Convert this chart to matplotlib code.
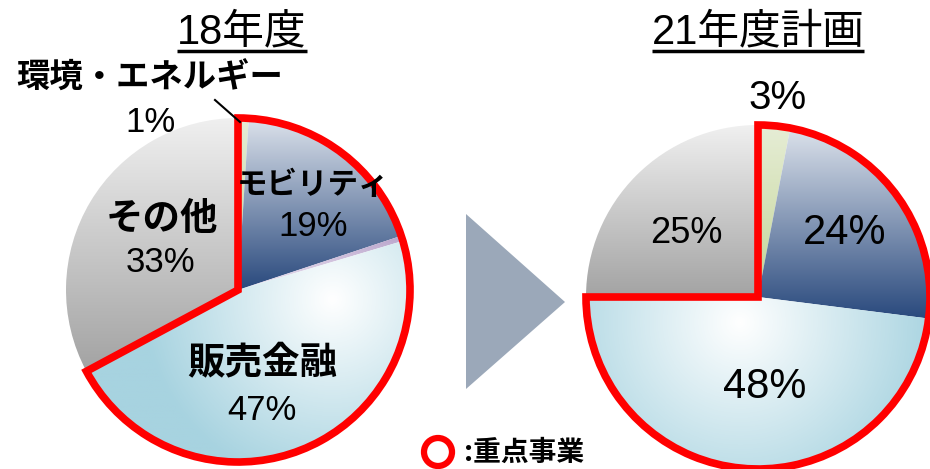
import numpy as np
import matplotlib.pyplot as plt
from matplotlib.patches import Wedge, Circle, Polygon
from matplotlib.colors import LinearSegmentedColormap

plt.rcParams['font.family'] = ['Liberation Sans', 'Noto Sans CJK JP']

# 18年度の事業構成
segments_18 = ['環境・エネルギー', 'モビリティ', None, '販売金融', 'その他']
share_18 = [1, 19, 0.5, 47, 33]
focus_18 = [True, True, True, True, False]

# 21年度計画
segments_21 = ['環境・エネルギー', 'モビリティ', '販売金融', 'その他']
share_21 = [3, 24, 48, 25]
focus_21 = [True, True, True, False]

titles = ['18年度', '21年度計画']
legend_text = ':重点事業'

W, H = 930, 469
fig = plt.figure(figsize=(W / 100, H / 100), dpi=100)
ax = fig.add_axes([0, 0, 1, 1])

# fill styles per segment: ('lin', top, bottom) or ('rad', inner, outer)
styles = {
    '環境・エネルギー': ('lin', '#E6EDD6', '#C3D596'),
    'モビリティ': ('lin', '#DCE2EB', '#29497D'),
    None: ('lin', '#B9A4CB', '#EDE6F3'),
    '販売金融': ('rad', '#FFFFFF', '#A7D3E0'),
    'その他': ('lin', '#F0F0F0', '#A3A3A3'),
}


def fill_wedge(w, style, hot=None):
    ext = w.get_path().get_extents()
    kind, c0, c1 = style
    cmap = LinearSegmentedColormap.from_list('f', [c0, c1])
    if kind == 'lin':
        grad = np.linspace(0, 1, 256).reshape(-1, 1)
        im = ax.imshow(grad, cmap=cmap, origin='upper', aspect='auto',
                       extent=(ext.x0, ext.x1, ext.y0, ext.y1), zorder=1)
    else:
        hx, hy, hr = hot
        xs = np.linspace(ext.x0, ext.x1, 300)
        ys = np.linspace(ext.y0, ext.y1, 300)
        X, Y = np.meshgrid(xs, ys)
        d = np.clip(np.hypot(X - hx, Y - hy) / hr, 0, 1)
        im = ax.imshow(d, cmap=cmap, origin='lower', aspect='auto',
                       extent=(ext.x0, ext.x1, ext.y0, ext.y1), zorder=1)
    im.set_clip_path(w)
    w.set_facecolor('none')
    w.set_linewidth(0)


def draw_pie(names, shares, focus, cx, cy, r, hot):
    wedges, _ = ax.pie(shares, center=(cx, cy), radius=r, startangle=90,
                       counterclock=False, frame=True)
    for w, n in zip(wedges, names):
        fill_wedge(w, styles[n], hot)
    # red outline around focus segments
    sel = [w for w, f in zip(wedges, focus) if f]
    t1 = min(w.theta1 for w in sel)
    t2 = max(w.theta2 for w in sel)
    ax.add_patch(Wedge((cx, cy), r, t1, t2, fill=False, ec='#FF0000',
                       lw=5.5, zorder=5))
    return wedges


draw_pie(segments_18, share_18, focus_18, 238, H - 290, 172, (333, H - 300, 190))
draw_pie(segments_21, share_21, focus_21, 758, H - 297, 172, (740, H - 322, 200))

# pie() resets the limits, so fix the pixel frame afterwards
ax.set_xlim(0, W)
ax.set_ylim(0, H)
ax.set_aspect('auto')
ax.axis('off')

# arrow between the two pies
ax.add_patch(Polygon([(466, H - 214), (565, H - 302), (466, H - 389)],
                     closed=True, fc='#9BA8B9', ec='none', zorder=2))

# segment labels, 18年度
bold = dict(fontweight='bold', family=['Noto Sans CJK JP'],
            ha='center', va='center', zorder=6)
pct = dict(family=['Liberation Sans'], ha='center', va='center', zorder=6)

ax.text(150, H - 78, segments_18[0], fontsize=24, **bold)
ax.text(150, H - 122, f'{share_18[0]}%', fontsize=25, **pct)
ax.plot([215, 240], [H - 100, H - 122], color='black', lw=1.5, zorder=6)

ax.text(313, H - 185, segments_18[1], fontsize=22, **bold)
ax.text(313, H - 226, f'{share_18[1]}%', fontsize=25, **pct)
ax.text(162, H - 218, segments_18[4], fontsize=27, **bold)
ax.text(160, H - 262, f'{share_18[4]}%', fontsize=25, **pct)
ax.text(262, H - 362, segments_18[3], fontsize=27, **bold)
ax.text(262, H - 410, f'{share_18[3]}%', fontsize=25, **pct)

# labels, 21年度計画
ax.text(778, H - 98, f'{share_21[0]}%', fontsize=29, **pct)
ax.text(845, H - 233, f'{share_21[1]}%', fontsize=30, **pct)
ax.text(765, H - 387, f'{share_21[2]}%', fontsize=30, **pct)
ax.text(686, H - 233, f'{share_21[3]}%', fontsize=26, **pct)

# underlined titles
renderer = fig.canvas.get_renderer()
for x, s in zip([242, 758], titles):
    t = ax.text(x, H - 32, s, fontsize=30, ha='center', va='center', zorder=6)
    bb = t.get_window_extent(renderer=renderer)
    ax.plot([bb.x0, bb.x1], [H - 51, H - 51], color='black', lw=2.5,
            solid_capstyle='butt', zorder=6)

# legend mark
ax.add_patch(Circle((438, H - 452), 14, fill=False, ec='#FF0000', lw=4.5,
                    zorder=6))
ax.text(464, H - 453, legend_text, fontsize=20, fontweight='bold',
        family=['Noto Sans CJK JP'], ha='left', va='center', zorder=6)

fig.savefig('out.png', dpi=100)
